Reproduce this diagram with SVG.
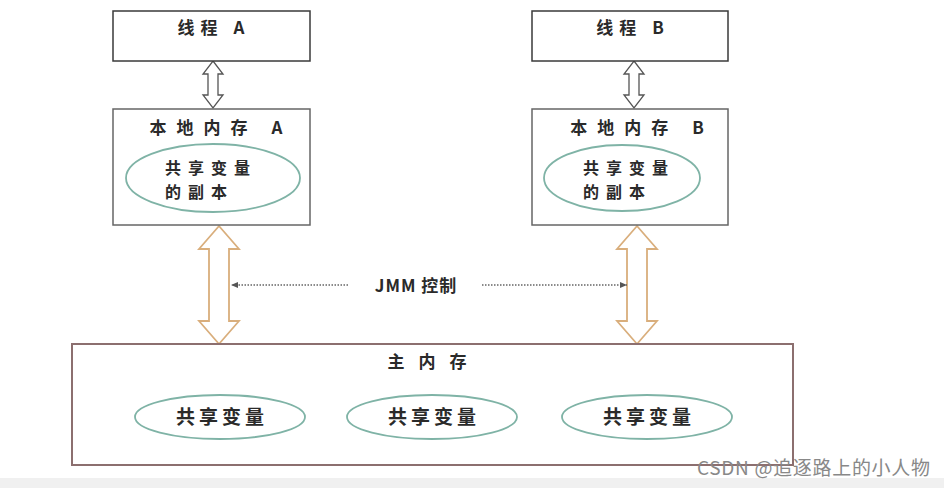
<svg xmlns="http://www.w3.org/2000/svg" width="944" height="488" viewBox="0 0 944 488">
<defs>
<style>
.box{fill:#fff;stroke:#3a3a3a;stroke-width:1.5}
.lbox{fill:#fff;stroke:#666;stroke-width:1.5}
.mbox{fill:#fff;stroke:#8c6f6f;stroke-width:2}
.ell{fill:#fff;stroke:#7fb3a6;stroke-width:1.8}
.t{font-family:"Noto Sans CJK SC","Liberation Sans",sans-serif;font-weight:bold;fill:#2a2a2a;font-size:17px}
.e{font-family:"Noto Sans CJK SC","Liberation Sans",sans-serif;font-weight:bold;fill:#2a2a2a;font-size:19px;letter-spacing:4px}
.e2{font-family:"Noto Sans CJK SC","Liberation Sans",sans-serif;font-weight:bold;fill:#2a2a2a;font-size:16px;letter-spacing:7px}
.sa{fill:#fff;stroke:#555;stroke-width:1.3}
.ba{fill:#fff;stroke:#d9ae7c;stroke-width:1.8}
.dot{stroke:#666;stroke-width:1.3;stroke-dasharray:1.5 1.5;fill:none}
</style>
<marker id="ah" viewBox="0 0 8 8" refX="7" refY="4" markerWidth="8" markerHeight="8" markerUnits="userSpaceOnUse" orient="auto">
<path d="M0,1 L7,4 L0,7 Z" fill="#555"/>
</marker>
</defs>
<rect width="944" height="488" fill="#fff"/>
<rect y="478" width="944" height="10" fill="#f0f0f0"/>

<g id="connectors">
<path class="sa" d="M213,61 L223,74 L218,74 L218,95 L223,95 L213,108 L203,95 L208,95 L208,74 L203,74 Z"/>
<path class="sa" d="M634,61 L644,74 L639,74 L639,95 L644,95 L634,108 L624,95 L629,95 L629,74 L624,74 Z"/>
<path class="ba" d="M219,226 L239,249 L229,249 L229,321 L239,321 L219,344 L199,321 L209,321 L209,249 L199,249 Z"/>
<path class="ba" d="M637,226 L657,249 L647,249 L647,321 L657,321 L637,344 L617,321 L627,321 L627,249 L617,249 Z"/>
<line class="dot" x1="348" y1="285" x2="231" y2="285" marker-end="url(#ah)"/>
<line class="dot" x1="482" y1="285" x2="627" y2="285" marker-end="url(#ah)"/>
<text class="t" x="416" y="292" text-anchor="middle" font-size="19" letter-spacing="1">JMM 控制</text>
</g>

<g id="threadA">
<rect class="box" x="113" y="11" width="197" height="50"/>
<text class="t" x="214" y="34" text-anchor="middle" letter-spacing="6">线程 A</text>
</g>
<g id="threadB">
<rect class="box" x="532" y="11" width="196" height="50"/>
<text class="t" x="633" y="34" text-anchor="middle" letter-spacing="6">线程 B</text>
</g>

<g id="localA">
<rect class="lbox" x="113" y="109" width="197" height="116"/>
<text class="t" x="221" y="134" text-anchor="middle" letter-spacing="10">本地内存 A</text>
<ellipse class="ell" cx="213" cy="178" rx="87" ry="34"/>
<text class="e2" x="165" y="174">共享变量</text>
<text class="e2" x="165" y="198">的副本</text>
</g>
<g id="localB">
<rect class="lbox" x="532" y="109" width="196" height="116"/>
<text class="t" x="642" y="134" text-anchor="middle" letter-spacing="10">本地内存 B</text>
<ellipse class="ell" cx="622" cy="178" rx="78" ry="33"/>
<text class="e2" x="583" y="174">共享变量</text>
<text class="e2" x="583" y="198">的副本</text>
</g>

<g id="mainMemory">
<rect class="mbox" x="72" y="344" width="721" height="121"/>
<text class="t" x="434" y="368" text-anchor="middle" letter-spacing="14">主内存</text>
<ellipse class="ell" cx="220" cy="417" rx="85" ry="22"/>
<text class="e" x="222" y="424" text-anchor="middle">共享变量</text>
<ellipse class="ell" cx="432" cy="417" rx="85" ry="22"/>
<text class="e" x="434" y="424" text-anchor="middle">共享变量</text>
<ellipse class="ell" cx="647" cy="417" rx="85" ry="22"/>
<text class="e" x="649" y="424" text-anchor="middle">共享变量</text>
</g>

<text x="697" y="475" font-family="'Noto Sans CJK SC','Liberation Sans',sans-serif" font-size="19" fill="#888" textLength="233" lengthAdjust="spacing">CSDN @追逐路上的小人物</text>
</svg>
